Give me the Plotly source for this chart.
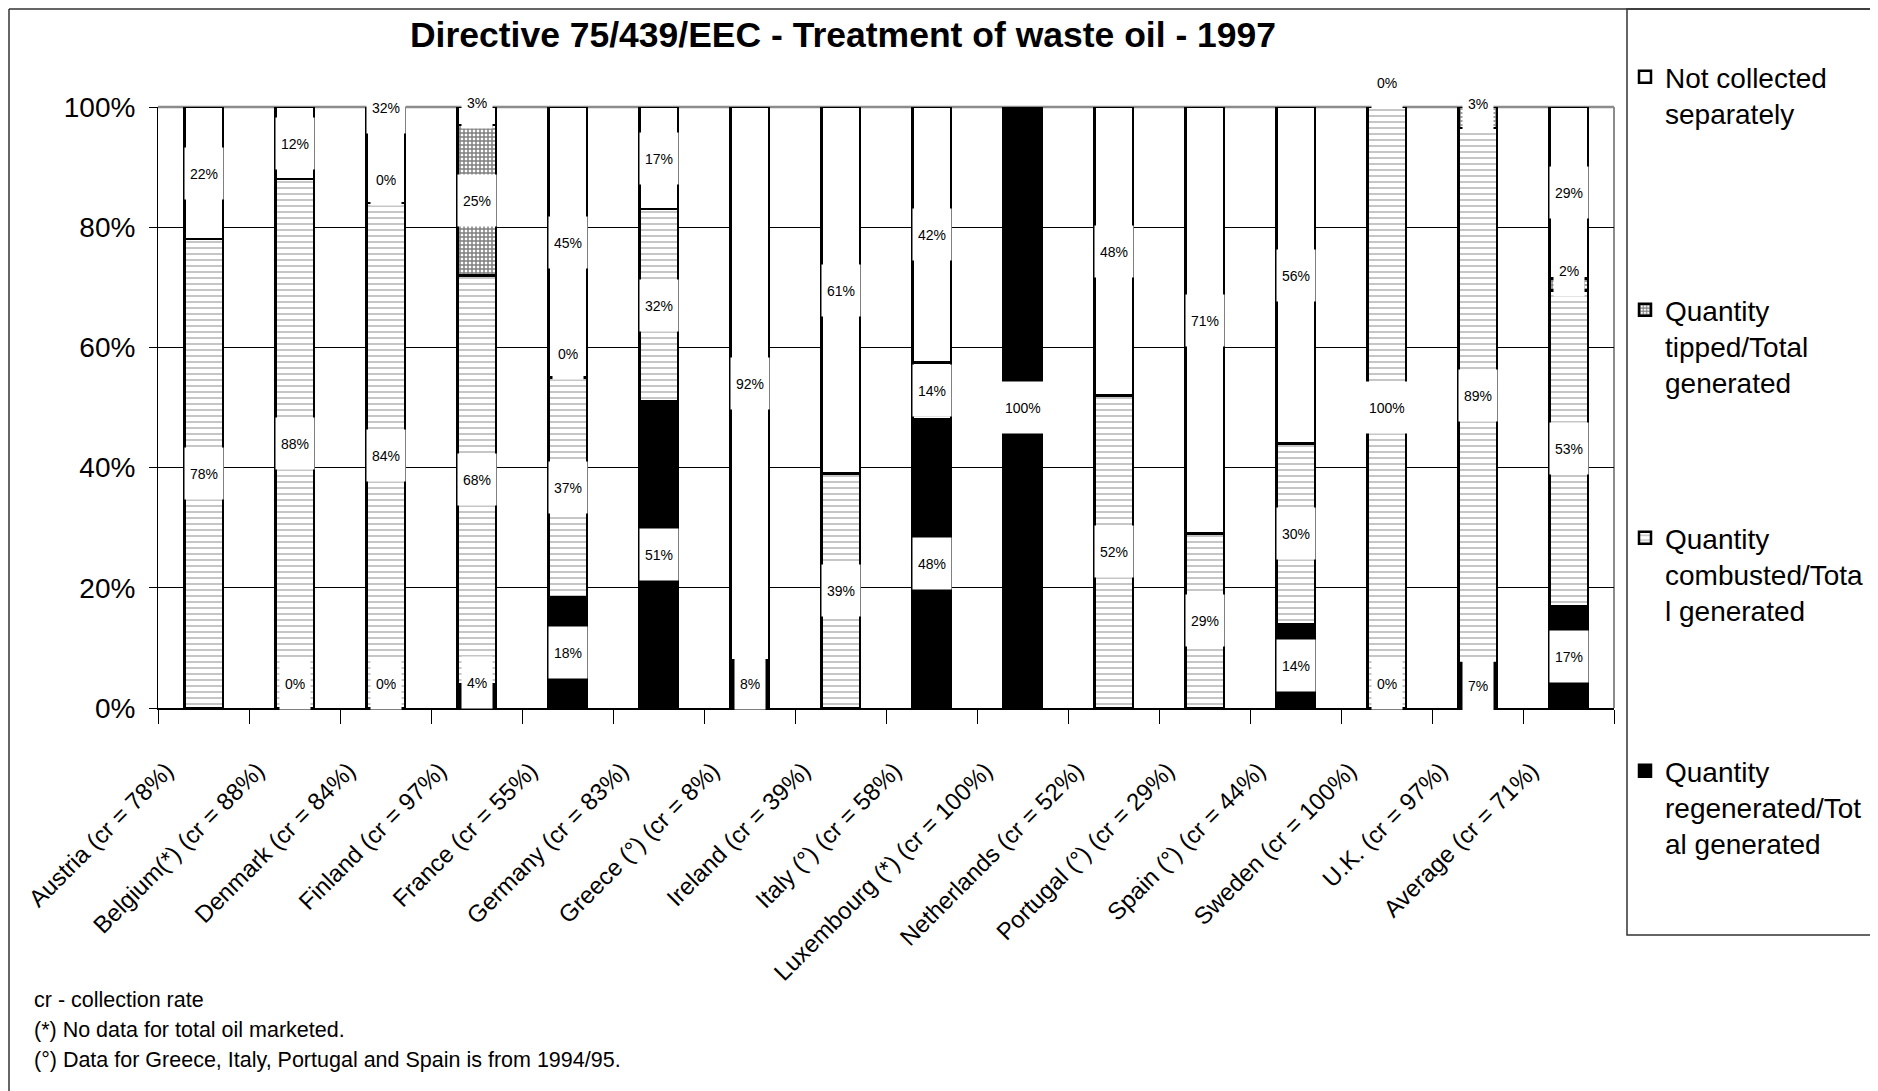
import plotly.graph_objects as go

# the page body adds an 8px margin, so the figure is drawn 8px smaller and
# every pixel position below is a screen position minus that offset
OFF = 8
W, H = 1878 - OFF, 1091 - OFF
FONT = "Liberation Sans, Arial, sans-serif"

countries = [
    "Austria (cr = 78%)", "Belgium(*) (cr = 88%)", "Denmark (cr = 84%)",
    "Finland (cr = 97%)", "France (cr = 55%)", "Germany (cr = 83%)",
    "Greece (°) (cr = 8%)", "Ireland (cr = 39%)", "Italy (°) (cr = 58%)",
    "Luxembourg (*) (cr = 100%)", "Netherlands (cr = 52%)",
    "Portugal (°) (cr = 29%)", "Spain (°) (cr = 44%)", "Sweden (cr = 100%)",
    "U.K. (cr = 97%)", "Average (cr = 71%)",
]

# bar heights as drawn (stacked bottom -> top)
regen_vals = [None, 0, 0, 4, 18.5, 51, 8, None, 48, 100, None, None, 14, 0, 7.5, 17]
comb_vals = [78, 88, 84, 68, 36.5, 32, None, 39, 9.5, None, 52, 29, 30, 100, 89, 52.5]
tipped_vals = [None, None, 0, 25, 0, None, None, None, None, None, None, None, None, None, 3.5, 2]
notcoll_vals = [22, 12, 32, 3, 45, 17, 92, 61, 42.5, None, 48, 71, 56, 0, None, 28.5]

# data labels as printed on the chart
regen_labels = ["", "0%", "0%", "4%", "18%", "51%", "8%", "", "48%", "100%", "", "", "14%", "0%", "7%", "17%"]
comb_labels = ["78%", "88%", "84%", "68%", "37%", "32%", "", "39%", "14%", "", "52%", "29%", "30%", "100%", "89%", "53%"]
tipped_labels = ["", "", "0%", "25%", "0%", "", "", "", "", "", "", "", "", "", "3%", "2%"]
notcoll_labels = ["22%", "12%", "32%", "3%", "45%", "17%", "92%", "61%", "42%", "", "48%", "71%", "56%", "0%", "", "29%"]

y_ticks = [0, 20, 40, 60, 80, 100]
y_ticktext = ["0%", "20%", "40%", "60%", "80%", "100%"]

series = [
    ("Quantity<br>regenerated/Tot<br>al generated", regen_vals, regen_labels,
     dict(color="black"), "legend4"),
    ("Quantity<br>combusted/Tota<br>l generated", comb_vals, comb_labels,
     dict(color="white", pattern=dict(shape="-", fgcolor="#808080", bgcolor="white",
                                      size=6, solidity=0.3)), "legend3"),
    ("Quantity<br>tipped/Total<br>generated", tipped_vals, tipped_labels,
     dict(color="white", pattern=dict(shape="+", fgcolor="black", bgcolor="white",
                                      size=4, solidity=0.6)), "legend2"),
    ("Not collected<br>separately", notcoll_vals, notcoll_labels,
     dict(color="white"), "legend"),
]

Y_MAX = 100

fig = go.Figure()
base = [0.0] * len(countries)
label_annots = []
for name, vals, labels, marker, leg in series:
    fig.add_trace(go.Bar(
        x=countries, y=vals, name=name, legend=leg,
        marker=dict(line=dict(color="black", width=2.5), **marker),
    ))
    for i, (v, t) in enumerate(zip(vals, labels)):
        if v is None:
            continue
        yc = base[i] + v / 2
        if v == 0:
            yc += 4
        elif v < 5:
            yc += 2.3
        yc = max(yc, 3.8)
        if t:
            # y given as a fraction of the axis so labels above 100% are still drawn
            label_annots.append(dict(
                x=countries[i], y=yc / Y_MAX, xref="x", yref="paper", text=t,
                xanchor="center", yanchor="middle",
                showarrow=False, bgcolor="white", height=41, borderpad=5,
                font=dict(family=FONT, size=14, color="black"),
            ))
        base[i] += v

# plot area in screen pixels
PL, PR, PT, PB = 158, 1614, 107, 708


def px(x):
    return (x - PL) / (PR - PL)


def py(y):
    return (PB - y) / (PB - PT)


shapes = [
    # plot frame top / right (grey)
    dict(type="line", xref="paper", yref="paper", x0=0, x1=1, y0=1, y1=1,
         line=dict(color="#8c8c8c", width=2.5), layer="below"),
    dict(type="line", xref="paper", yref="paper", x0=1, x1=1, y0=0, y1=1,
         line=dict(color="#8c8c8c", width=2), layer="below"),
    # outer chart frame
    dict(type="line", xref="paper", yref="paper", x0=px(9), x1=px(1877), y0=py(9), y1=py(9),
         line=dict(color="#333333", width=1.5)),
    dict(type="line", xref="paper", yref="paper", x0=px(9), x1=px(9), y0=py(9), y1=py(1095),
         line=dict(color="#333333", width=1.5)),
    # legend box
    dict(type="rect", xref="paper", yref="paper", x0=px(1627), x1=px(1876), y0=py(935), y1=py(9),
         line=dict(color="#333333", width=1.5)),
]

footnotes = [
    "cr - collection rate",
    "(*) No data for total oil marketed.",
    "(°) Data for Greece, Italy, Portugal and Spain is from 1994/95.",
]
foot_annots = [
    dict(x=px(32), y=py(1000 + 30 * k), xref="paper", yref="paper", text=t, showarrow=False,
         xanchor="left", yanchor="middle", font=dict(family=FONT, size=21.5, color="black"))
    for k, t in enumerate(footnotes)
]

leg_common = dict(font=dict(family=FONT, size=28, color="black"), bgcolor="rgba(0,0,0,0)",
                  xanchor="left", yanchor="top", valign="top")
leg_x = px(1625)

fig.update_layout(
    width=W, height=H,
    paper_bgcolor="white", plot_bgcolor="white",
    margin=dict(l=PL - OFF, r=W - (PR - OFF), t=PT - OFF, b=H - (PB - OFF), autoexpand=False),
    barmode="stack", bargap=0.577,
    title=dict(text="<b>Directive 75/439/EEC - Treatment of waste oil - 1997</b>",
               x=(843 - OFF) / W, xanchor="center", y=1 - (35 - OFF) / H, yanchor="middle",
               font=dict(family=FONT, size=35.5, color="black")),
    font=dict(family=FONT, color="black"),
    xaxis=dict(
        type="category", tickson="boundaries", ticks="outside", ticklen=14,
        tickcolor="black", tickwidth=1, showline=True, linecolor="black", linewidth=2,
        tickangle=-45, tickfont=dict(family=FONT, size=24, color="black"),
        showgrid=False, ticklabelshift=-37, ticklabelstandoff=37,
    ),
    yaxis=dict(
        range=[0, Y_MAX], tickmode="array", tickvals=y_ticks, ticktext=y_ticktext,
        ticks="outside", ticklen=8, tickcolor="black", showline=True,
        linecolor="black", linewidth=1, showgrid=True, gridcolor="black", gridwidth=1,
        zeroline=False, tickfont=dict(family=FONT, size=28, color="black"),
        ticklabelstandoff=8,
    ),
    showlegend=True,
    legend=dict(x=leg_x, y=py(52), **leg_common),
    legend2=dict(x=leg_x, y=py(285), **leg_common),
    legend3=dict(x=leg_x, y=py(513), **leg_common),
    legend4=dict(x=leg_x, y=py(746), **leg_common),
    shapes=shapes,
    annotations=label_annots + foot_annots,
)

fig.write_html("out.html")
